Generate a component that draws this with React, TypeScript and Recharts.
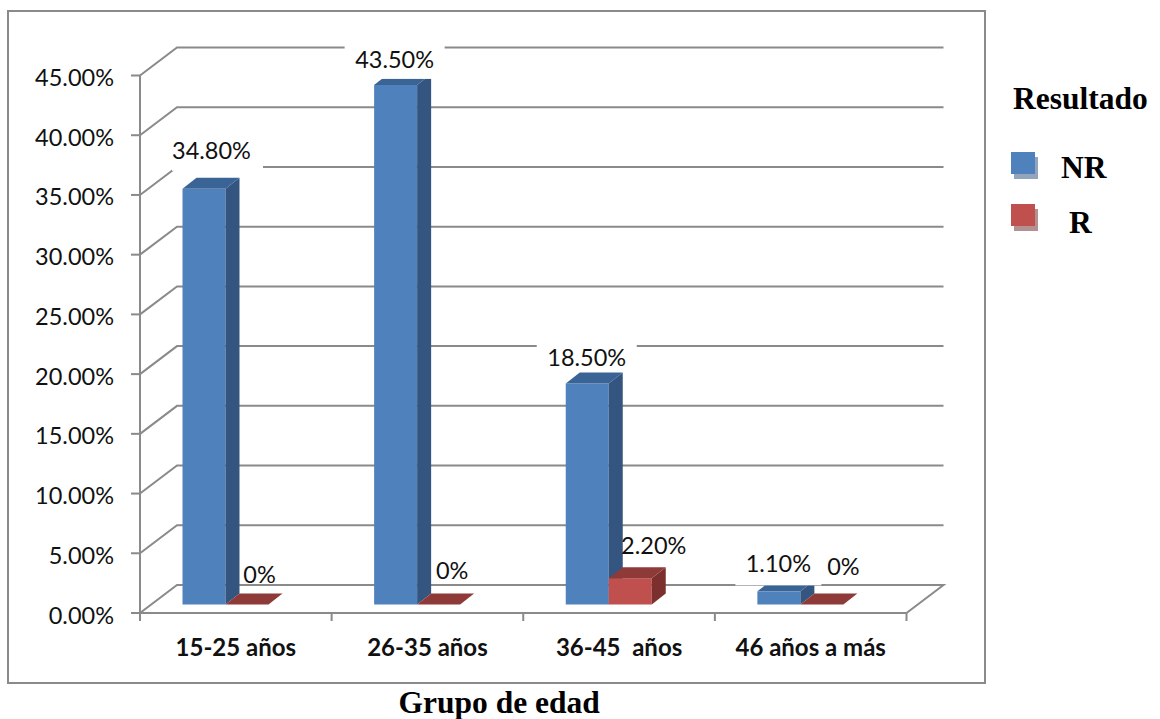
import * as React from "react";
import {
  Bar,
  BarChart,
  CartesianGrid,
  LabelList,
  Legend,
  XAxis,
  YAxis,
} from "recharts";

const categories = ["15-25 años", "26-35 años", "36-45  años", "46 años a más"];
const nrValues = [34.8, 43.5, 18.5, 1.1];
const rValues = [0, 0, 2.2, 0];
const yTicks = [0, 5, 10, 15, 20, 25, 30, 35, 40, 45];

const chart_data = categories.map((name, i) => ({
  name,
  NR: nrValues[i],
  R: rValues[i],
}));

const CHART_W = 1160;
const CHART_H = 719;
const PLOT_LEFT = 140;
const PLOT_RIGHT = 906.5;
const PLOT_TOP = 75.5;
const PLOT_BOTTOM = 613;
const BAND = (PLOT_RIGHT - PLOT_LEFT) / categories.length;

// depth of the back wall and of each box
const WALL_DX = 37;
const WALL_DY = -28;
const BOX_DX = 14;
const BOX_DY = -11;
// bars stand a little behind the front edge of the floor
const BAR_SHIFT_X = -10.5;
const BAR_SHIFT_Y = -8.5;

const AXIS_GREY = "#8a8a8a";
const LABEL_FONT = "Lato, 'Open Sans', sans-serif";
const TITLE_FONT = "'Liberation Serif', serif";

const BLUE = { front: "#4f81bd", side: "#34557f", top: "#3b6496", shadow: "#93a5bd" };
const RED = { front: "#c0504d", side: "#7c302e", top: "#8e3a38", shadow: "#b39191" };

// hand-placed data labels, relative to the top centre of the bar
const nrLabelOffsets = [
  { dx: 7.5, dy: -39 },
  { dx: -1, dy: -26 },
  { dx: -0.5, dy: -27 },
  { dx: -0.5, dy: -28 },
];
const rLabelOffsets = [
  { dx: 12.5, dy: -31 },
  { dx: 13.5, dy: -35 },
  { dx: 23.5, dy: -33 },
  { dx: 21.5, dy: -39 },
];
// white boxes behind the NR labels, they cut the grid lines
const nrLabelBoxes = [
  { w: 91, h: 42, cx: 6 },
  { w: 100, h: 40, cx: 0 },
  { w: 100, h: 30, cx: 0 },
  { w: 86, h: 44, cx: 0 },
];

function Box3D(props: any) {
  const { x, y, width, height, colors } = props;
  const left = x + BAR_SHIFT_X;
  const right = left + width;
  const top = y + BAR_SHIFT_Y;
  const bottom = top + height;
  return (
    <g>
      <rect x={left} y={top} width={width} height={height} fill={colors.front} />
      <polygon
        points={`${right},${top} ${right + BOX_DX},${top + BOX_DY} ${right + BOX_DX},${bottom + BOX_DY} ${right},${bottom}`}
        fill={colors.side}
      />
      <polygon
        points={`${left},${top} ${right},${top} ${right + BOX_DX},${top + BOX_DY} ${left + BOX_DX},${top + BOX_DY}`}
        fill={colors.top}
      />
    </g>
  );
}

function formatValue(v: number) {
  return v === 0 ? "0%" : v.toFixed(2) + "%";
}

function barLabel(offsets: { dx: number; dy: number }[], boxes?: { w: number; h: number; cx: number }[]) {
  return (props: any) => {
    const { x, y, width, value, index } = props;
    const cx = x + BAR_SHIFT_X + width / 2 + offsets[index].dx;
    const cy = y + BAR_SHIFT_Y + offsets[index].dy;
    const box = boxes ? boxes[index] : null;
    return (
      <g>
        {box && (
          <rect
            x={cx + box.cx - box.w / 2}
            y={cy - box.h / 2}
            width={box.w}
            height={box.h}
            fill="#fff"
          />
        )}
        <text
          x={cx}
          y={cy}
          textAnchor="middle"
          dominantBaseline="central"
          fontFamily={LABEL_FONT}
          fontSize={23.5}
          fill="#111"
        >
          {formatValue(value)}
        </text>
      </g>
    );
  };
}

// one wall grid line: runs up the side wall, then along the back
function WallLine(props: any) {
  const { x1, y1, x2 } = props;
  const by = y1 + WALL_DY;
  const isFloor = Math.abs(y1 - PLOT_BOTTOM) < 1;
  const path =
    `M${x1},${y1} L${x1 + WALL_DX},${by} L${x2 + WALL_DX},${by}` +
    (isFloor ? ` L${x2},${y1}` : "");
  return <path d={path} fill="none" stroke={AXIS_GREY} strokeWidth={2} />;
}

function CategoryTick(props: any) {
  const { x, y, payload, index } = props;
  const edge = x - BAND / 2;
  return (
    <g>
      <line x1={edge} y1={PLOT_BOTTOM} x2={edge} y2={PLOT_BOTTOM + 8} stroke={AXIS_GREY} strokeWidth={2} />
      {index === categories.length - 1 && (
        <line x1={x + BAND / 2} y1={PLOT_BOTTOM} x2={x + BAND / 2} y2={PLOT_BOTTOM + 8} stroke={AXIS_GREY} strokeWidth={2} />
      )}
      <text
        x={x}
        y={y + 25}
        textAnchor="middle"
        dominantBaseline="central"
        fontFamily={LABEL_FONT}
        fontWeight={700}
        fontSize={24}
        fill="#111"
        style={{ whiteSpace: "pre" }}
      >
        {payload.value}
      </text>
    </g>
  );
}

// value axis labels sit a little below their tick marks
function ValueTick(props: any) {
  const { x, y, payload } = props;
  return (
    <text
      x={x}
      y={y + 1.5}
      textAnchor="end"
      dominantBaseline="central"
      fontFamily={LABEL_FONT}
      fontSize={23.5}
      fill="#111"
    >
      {payload.value.toFixed(2) + "%"}
    </text>
  );
}

const SWATCH_COLORS: Record<string, typeof BLUE> = { NR: BLUE, R: RED };
const LEGEND_TEXT_X: Record<string, number> = { NR: 61, R: 69 };

function ResultLegend(props: any) {
  const items = props.payload ?? [];
  return (
    <div style={{ position: "relative", width: 160, height: 170, fontFamily: TITLE_FONT, fontWeight: 700, fontSize: 31.5, color: "#000" }}>
      <div style={{ position: "absolute", left: 13, top: 0, lineHeight: "36px" }}>Resultado</div>
      {items.map((item: any, i: number) => {
        const colors = SWATCH_COLORS[item.value];
        const top = 71 + i * 52;
        return (
          <React.Fragment key={item.value}>
            <div style={{ position: "absolute", left: 14, top: top + 5, width: 24, height: 22, background: colors.shadow }} />
            <div style={{ position: "absolute", left: 11, top, width: 24, height: 22, background: colors.front }} />
            <div style={{ position: "absolute", left: LEGEND_TEXT_X[item.value], top: top - 2 + i * 3, lineHeight: "36px" }}>
              {item.value}
            </div>
          </React.Fragment>
        );
      })}
    </div>
  );
}

export default function App() {
  return (
    <div style={{ position: "absolute", left: 0, top: 0, width: CHART_W, height: CHART_H, background: "#fff" }}>
      <div
        style={{
          position: "absolute",
          left: 7,
          top: 10,
          width: 975,
          height: 670,
          border: `2px solid ${AXIS_GREY}`,
        }}
      />
      <BarChart
        width={CHART_W}
        height={CHART_H}
        data={chart_data}
        margin={{ left: 40, right: CHART_W - PLOT_RIGHT, top: PLOT_TOP, bottom: 0 }}
        barGap={0}
        barCategoryGap={53}
        style={{ position: "absolute", left: 0, top: 0 }}
      >
        <CartesianGrid vertical={false} horizontal={(p: any) => <WallLine key={p.key} {...p} />} />
        <XAxis
          dataKey="name"
          height={CHART_H - PLOT_BOTTOM}
          stroke={AXIS_GREY}
          strokeWidth={2}
          tickLine={false}
          interval={0}
          tick={CategoryTick}
          label={{
            value: "Grupo de edad",
            position: "insideBottom",
            offset: 6,
            dx: -24,
            style: { fontFamily: TITLE_FONT, fontWeight: 700, fontSize: 31.5, fill: "#000" },
          }}
        />
        <YAxis
          width={100}
          domain={[0, 45]}
          ticks={yTicks}
          interval={0}
          stroke={AXIS_GREY}
          strokeWidth={2}
          tickSize={9}
          tickMargin={17}
          tick={ValueTick}
        />
        <Legend
          layout="vertical"
          align="center"
          verticalAlign="middle"
          content={ResultLegend}
          wrapperStyle={{ left: 1000, top: 81, width: 160 }}
        />
        <Bar
          dataKey="NR"
          fill={BLUE.front}
          isAnimationActive={false}
          shape={(p: any) => <Box3D {...p} colors={BLUE} />}
        >
          <LabelList dataKey="NR" content={barLabel(nrLabelOffsets, nrLabelBoxes)} />
        </Bar>
        <Bar
          dataKey="R"
          fill={RED.front}
          isAnimationActive={false}
          shape={(p: any) => <Box3D {...p} colors={RED} />}
        >
          <LabelList dataKey="R" content={barLabel(rLabelOffsets)} />
        </Bar>
      </BarChart>
    </div>
  );
}
